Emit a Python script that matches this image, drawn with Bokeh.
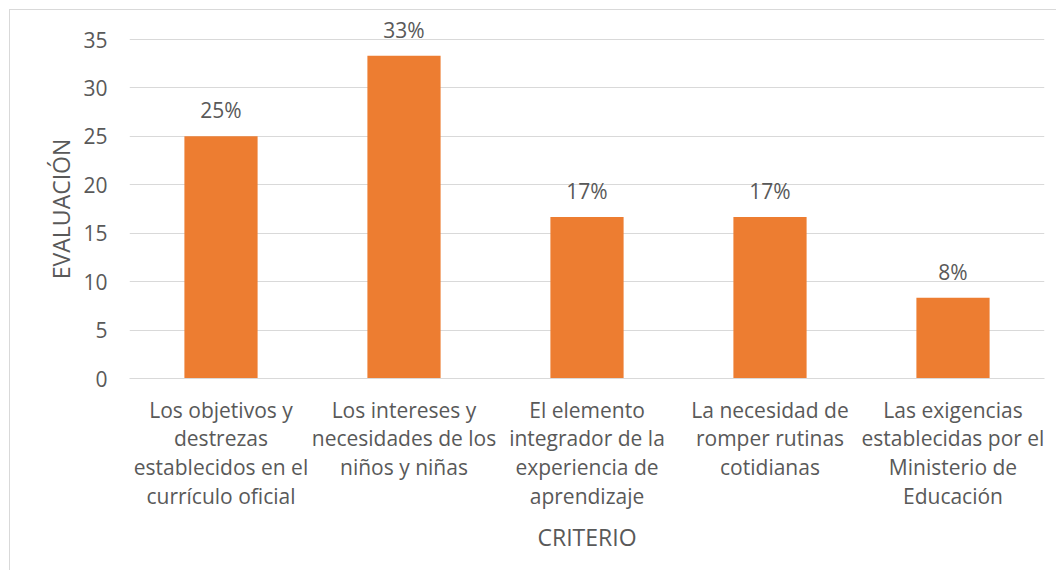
from bokeh.plotting import figure
from bokeh.models import ColumnDataSource, LabelSet, FixedTicker, Range1d, InlineStyleSheet
from bokeh.core.properties import value
from bokeh.embed import file_html
from bokeh.resources import INLINE

categories = [
    "Los objetivos y\ndestrezas\nestablecidos en el\ncurrículo oficial",
    "Los intereses y\nnecesidades de los\nniños y niñas",
    "El elemento\nintegrador de la\nexperiencia de\naprendizaje",
    "La necesidad de\nromper rutinas\ncotidianas",
    "Las exigencias\nestablecidas por el\nMinisterio de\nEducación",
]
values = [25.0, 33.33, 16.67, 16.67, 8.33]
pct_labels = ["25%", "33%", "17%", "17%", "8%"]
y_ticks = [0, 5, 10, 15, 20, 25, 30, 35]

FONT = "Open Sans"
TXT = "#595959"
GRID = "#D9D9D9"
FS = "21px"
TITLE_FS = "23px"

src = ColumnDataSource(dict(cat=categories, val=values, lab=pct_labels))

css = InlineStyleSheet(css="""
:host { position: relative; }
:host::after {
  content: ""; position: absolute; left: 9px; top: 9px; right: 0; bottom: 0;
  border-top: 1.5px solid #d9d9d9; border-left: 1.5px solid #d9d9d9;
  pointer-events: none; z-index: 10;
}
""")

p = figure(
    x_range=categories, y_range=Range1d(0, 37.48),
    width=1056, height=570, output_backend="svg", toolbar_location=None,
    min_border_left=129, min_border_right=12, min_border_top=15, min_border_bottom=192,
    stylesheets=[css],
)
p.outline_line_color = None
p.background_fill_color = "white"
p.border_fill_color = "white"

p.vbar(x="cat", top="val", width=0.4, source=src, fill_color="#ED7D31", line_color=None)

labels = LabelSet(x="cat", y="val", text="lab", source=src, text_align="center",
                  text_baseline="alphabetic", y_offset=18, text_font=value(FONT),
                  text_font_size=value(FS), text_color=TXT, level="overlay")
p.add_layout(labels)

p.yaxis.ticker = FixedTicker(ticks=y_ticks)
p.yaxis.bounds = (0, 35)
p.ygrid.grid_line_color = GRID
p.ygrid.grid_line_width = 1
p.xgrid.grid_line_color = None

for ax in (p.xaxis, p.yaxis):
    ax.major_tick_line_color = None
    ax.minor_tick_line_color = None
    ax.major_tick_out = 0
    ax.major_tick_in = 0
    ax.major_label_text_font = FONT
    ax.major_label_text_font_size = FS
    ax.major_label_text_color = TXT
    ax.axis_label_text_font = FONT
    ax.axis_label_text_font_size = TITLE_FS
    ax.axis_label_text_color = TXT
    ax.axis_label_text_font_style = "normal"

p.yaxis.axis_line_color = None
p.yaxis.major_label_standoff = 22
# trailing no-break spaces keep the title centred on the 0-35 span
p.yaxis.axis_label = "EVALUACIÓN\u00a0\u00a0\u00a0\u00a0"
p.yaxis.axis_label_standoff = 3

p.xaxis.axis_line_color = GRID
p.xaxis.axis_line_width = 1
p.xaxis.major_label_standoff = 17
p.xaxis.major_label_text_line_height = 1.03
p.xaxis.axis_label = "CRITERIO"
p.xaxis.axis_label_standoff = 8

open("out.html", "w").write(file_html(p, INLINE))
